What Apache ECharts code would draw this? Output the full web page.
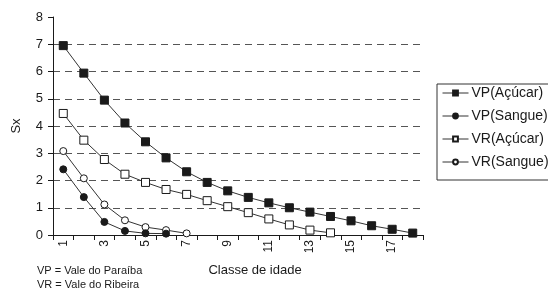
<!DOCTYPE html>
<html>
<head>
<meta charset="utf-8">
<script src="https://cdn.jsdelivr.net/npm/echarts@6/dist/echarts.min.js"></script>
<style>
  html, body { margin: 0; padding: 0; background: #fff; }
  #chart { width: 548px; height: 289px; }
</style>
</head>
<body>
<div id="chart"></div>
<script>
// Classe de idade 1..18
var classes = ['1','2','3','4','5','6','7','8','9','10','11','12','13','14','15','16','17','18'];
var yTicks = [0, 8, 1];

// Sx por classe
var vpAcucar = [6.95, 5.94, 4.95, 4.11, 3.42, 2.83, 2.32, 1.93, 1.62, 1.38, 1.18, 1.0, 0.84, 0.68, 0.52, 0.34, 0.21, 0.07];
var vpSangue = [2.41, 1.39, 0.48, 0.15, 0.06, 0.05];
var vrAcucar = [4.46, 3.48, 2.77, 2.23, 1.93, 1.67, 1.49, 1.26, 1.04, 0.82, 0.59, 0.37, 0.18, 0.08];
var vrSangue = [3.08, 2.08, 1.12, 0.54, 0.29, 0.18, 0.06];

var myChart = echarts.init(document.getElementById('chart'));
var font = 'Liberation Sans, Arial, sans-serif';
var ink = '#1a1a1a';

var mkSeries = function (name, data, symbol, size, filled) {
  return {
    name: name,
    type: 'line',
    data: data,
    symbol: symbol,
    symbolSize: size,
    showSymbol: true,
    lineStyle: { color: '#333', width: 1 },
    itemStyle: {
      color: filled ? ink : '#fff',
      borderColor: ink,
      borderWidth: 1
    },
    emphasis: { disabled: true },
    z: filled ? 3 : 2
  };
};

var option = {
  animation: false,
  textStyle: { fontFamily: font },
  grid: { left: 53, right: 125, top: 17, bottom: 54 },
  legend: {
    orient: 'vertical',
    left: 437,
    top: 84,
    padding: [2, 10, 11, 5],
    itemWidth: 26,
    itemHeight: 6,
    itemGap: 9,
    borderColor: '#333',
    borderWidth: 1,
    lineStyle: { width: 1 },
    textStyle: { fontFamily: font, fontSize: 14, color: ink, padding: [0, 0, 0, -2] },
    data: ['VP(Açúcar)', 'VP(Sangue)', 'VR(Açúcar)', 'VR(Sangue)']
  },
  xAxis: {
    type: 'category',
    data: classes,
    boundaryGap: true,
    name: 'Classe de idade',
    nameLocation: 'middle',
    nameGap: 29,
    nameTextStyle: { fontSize: 13, color: ink, padding: [0, 0, 0, 34] },
    axisLine: { lineStyle: { color: ink, width: 1 } },
    axisTick: { show: true, interval: 0, length: 5, lineStyle: { color: ink } },
    axisLabel: { interval: 1, rotate: 90, fontSize: 12, color: ink, margin: 5 },
    splitLine: { show: false }
  },
  yAxis: {
    type: 'value',
    min: yTicks[0],
    max: yTicks[1],
    interval: yTicks[2],
    name: 'Sx',
    nameLocation: 'middle',
    nameGap: 30,
    nameTextStyle: { fontSize: 13, color: ink },
    axisLine: { show: true, lineStyle: { color: ink, width: 1 } },
    axisTick: { show: true, length: 5, lineStyle: { color: ink } },
    axisLabel: { fontSize: 13, color: ink, margin: 10 },
    splitLine: {
      show: true,
      showMinLine: false,
      showMaxLine: false,
      lineStyle: { color: '#555', type: [7, 5], width: 1 }
    }
  },
  graphic: [
    { type: 'text', left: 37, top: 265, style: { text: 'VP = Vale do Paraíba', fontFamily: font, fontSize: 11, fill: ink } },
    { type: 'text', left: 37, top: 279, style: { text: 'VR = Vale do Ribeira', fontFamily: font, fontSize: 11, fill: ink } }
  ],
  series: [
    mkSeries('VP(Açúcar)', vpAcucar, 'rect', 8, true),
    mkSeries('VP(Sangue)', vpSangue, 'circle', 7, true),
    mkSeries('VR(Açúcar)', vrAcucar, 'rect', 8, false),
    mkSeries('VR(Sangue)', vrSangue, 'circle', 7, false)
  ]
};

myChart.setOption(option);
</script>
</body>
</html>
